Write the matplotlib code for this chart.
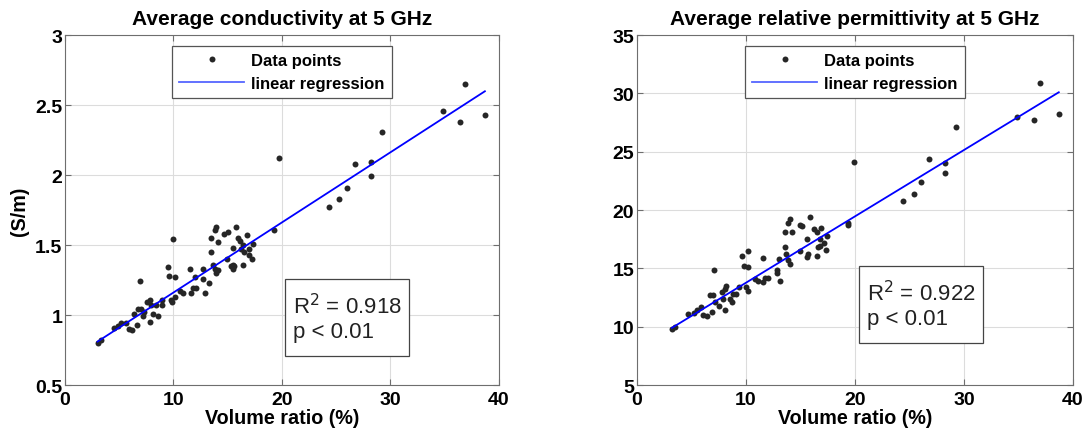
import numpy as np
import matplotlib
matplotlib.use("Agg")
import matplotlib.pyplot as plt

plt.rcParams['font.family'] = ['Liberation Sans', 'DejaVu Sans']

# conductivity panel
ratio_cond = [3.0, 3.3, 4.5, 4.9, 5.2, 5.6, 5.9, 6.2, 6.4, 6.6,
              6.7, 6.9, 7.0, 7.2, 7.3, 7.6, 7.8, 7.8, 7.9, 8.1,
              8.4, 8.6, 8.9, 8.9, 9.5, 9.6, 9.8, 9.9, 10.0, 10.1,
              10.1, 10.6, 10.9, 11.5, 11.6, 11.8, 12.0, 12.1, 12.7, 12.7,
              12.9, 13.3, 13.5, 13.5, 13.6, 13.8, 13.8, 13.9, 13.9, 14.1,
              14.1, 14.7, 14.9, 15.0, 15.3, 15.5, 15.5, 15.5, 15.6, 15.8,
              15.9, 16.1, 16.2, 16.4, 16.4, 16.5, 16.8, 17.0, 17.0, 17.2,
              17.3, 19.3, 19.7, 24.3, 25.3, 26.0, 26.7, 28.2, 28.2, 29.2,
              34.8, 36.4, 36.9, 38.7]
cond = [0.80, 0.82, 0.91, 0.92, 0.94, 0.94, 0.90, 0.89, 1.01, 0.93,
        1.04, 1.24, 1.04, 0.99, 1.02, 1.09, 1.11, 0.95, 1.07, 1.01,
        1.07, 0.99, 1.11, 1.07, 1.34, 1.28, 1.11, 1.09, 1.54, 1.27,
        1.13, 1.17, 1.16, 1.33, 1.16, 1.19, 1.27, 1.19, 1.33, 1.26,
        1.16, 1.23, 1.45, 1.55, 1.36, 1.33, 1.61, 1.30, 1.63, 1.32,
        1.52, 1.58, 1.40, 1.59, 1.35, 1.33, 1.36, 1.48, 1.35, 1.63,
        1.55, 1.53, 1.47, 1.50, 1.36, 1.45, 1.57, 1.47, 1.43, 1.40,
        1.51, 1.61, 2.12, 1.77, 1.83, 1.91, 2.08, 2.09, 1.99, 2.31,
        2.46, 2.38, 2.65, 2.43]
fit_cond = (0.0501, 0.660)   # slope, intercept of the drawn regression

# permittivity panel
ratio_perm = [3.2, 3.5, 4.7, 5.2, 5.5, 5.9, 6.1, 6.4, 6.7, 6.9,
              7.0, 7.1, 7.2, 7.5, 7.8, 7.9, 8.1, 8.1, 8.2, 8.5,
              8.7, 8.8, 9.1, 9.4, 9.6, 9.8, 10.0, 10.2, 10.2, 10.2,
              10.8, 11.1, 11.6, 11.6, 11.7, 12.0, 12.8, 12.8, 13.0, 13.1,
              13.6, 13.6, 13.7, 13.9, 13.9, 14.0, 14.0, 14.2, 15.0, 15.0,
              15.1, 15.6, 15.6, 15.7, 15.9, 16.2, 16.5, 16.5, 16.6, 16.8,
              16.8, 16.9, 17.2, 17.3, 17.4, 19.4, 19.4, 19.9, 24.4, 25.4,
              26.1, 26.8, 28.3, 28.3, 29.3, 34.9, 36.4, 37.0, 38.7]
perm = [9.8, 10.0, 11.1, 11.2, 11.4, 11.7, 11.0, 10.9, 12.7, 11.3,
        12.7, 14.9, 12.1, 11.8, 13.0, 12.4, 13.2, 11.4, 13.5, 12.4,
        12.1, 12.8, 12.8, 13.4, 16.1, 15.2, 13.4, 13.1, 16.5, 15.1,
        14.1, 13.9, 13.8, 15.9, 14.2, 14.2, 14.9, 14.6, 15.8, 13.9,
        16.8, 18.1, 16.2, 15.7, 18.9, 15.4, 19.2, 18.1, 18.7, 16.5,
        18.6, 17.5, 16.0, 16.2, 19.4, 18.4, 18.1, 16.1, 16.8, 17.5,
        16.9, 18.5, 17.2, 16.6, 17.8, 18.9, 18.7, 24.1, 20.8, 21.4,
        22.4, 24.4, 24.0, 23.2, 27.1, 28.0, 27.7, 30.9, 28.2]
fit_perm = (0.569, 8.08)

titles = ['Average conductivity at 5 GHz', 'Average relative permittivity at 5 GHz']
stats = ['R$^2$ = 0.918\np < 0.01', 'R$^2$ = 0.922\np < 0.01']

edge = '#262626'
fig = plt.figure(figsize=(10.85, 4.39), dpi=100)
ax1 = fig.add_axes([0.0599, 0.1207, 0.400, 0.797])
ax2 = fig.add_axes([0.5871, 0.1207, 0.4018, 0.797])

panels = [(ax1, ratio_cond, cond, fit_cond, (0.5, 3), np.arange(0.5, 3.01, 0.5), (0.507, 0.303, 0.286, 0.22)),
          (ax2, ratio_perm, perm, fit_perm, (5, 35), np.arange(5, 36, 5), (0.509, 0.340, 0.284, 0.22))]

for i, (ax, x, y, fit, ylim, yticks, box) in enumerate(panels):
    x = np.array(x)
    y = np.array(y)
    k, b = fit
    xs = np.sort(x)
    ax.plot(x, y, 'o', color=edge, ms=4.3, mec='none', label='Data points', zorder=3)
    ax.plot(xs, k * xs + b, color='#0000ff', lw=1.3, label='linear regression', zorder=4)

    ax.set_xlim(0, 40)
    ax.set_ylim(*ylim)
    ax.set_xticks([0, 10, 20, 30, 40])
    ax.set_yticks(yticks)
    ax.set_yticklabels(['%g' % t for t in yticks])
    ax.grid(True, color='#dcdcdc', lw=0.8)
    ax.set_axisbelow(True)
    for s in ax.spines.values():
        s.set_color('#6e6e6e')
        s.set_linewidth(0.8)
    ax.tick_params(direction='in', length=4, width=0.8, color='#6e6e6e',
                   top=True, right=True, labelsize=14, pad=2)
    ax.tick_params(axis='x', pad=4)
    for lab in ax.get_xticklabels() + ax.get_yticklabels():
        lab.set_fontweight('bold')
    ax.set_title(titles[i], fontsize=15, fontweight='bold', pad=8)
    ax.set_xlabel('Volume ratio (%)', fontsize=14.2, fontweight='bold', labelpad=0)

    leg = ax.legend(loc='upper center', bbox_to_anchor=(0.5, 0.968), borderaxespad=0,
                    fancybox=False, framealpha=1, edgecolor='#555555',
                    prop={'weight': 'bold', 'size': 12}, handlelength=3.9,
                    handletextpad=0.4, labelspacing=0.45, borderpad=0.42)
    leg.get_frame().set_linewidth(0.9)
    leg.get_lines()[1].set_color('#5566ff')

    bx, by, bw, bh = box
    ax.add_patch(plt.Rectangle((bx, by - bh), bw, bh, transform=ax.transAxes,
                               fill=True, fc='white', ec='#444444', lw=0.9, zorder=5))
    ax.text(bx + 0.018, by - bh / 2, stats[i], transform=ax.transAxes,
            fontsize=16, ha='left', va='center', linespacing=1.15, color='#222222', zorder=6)

ax1.set_ylabel('(S/m)', fontsize=14.2, fontweight='bold', labelpad=4)

fig.savefig('out.png', dpi=100)
